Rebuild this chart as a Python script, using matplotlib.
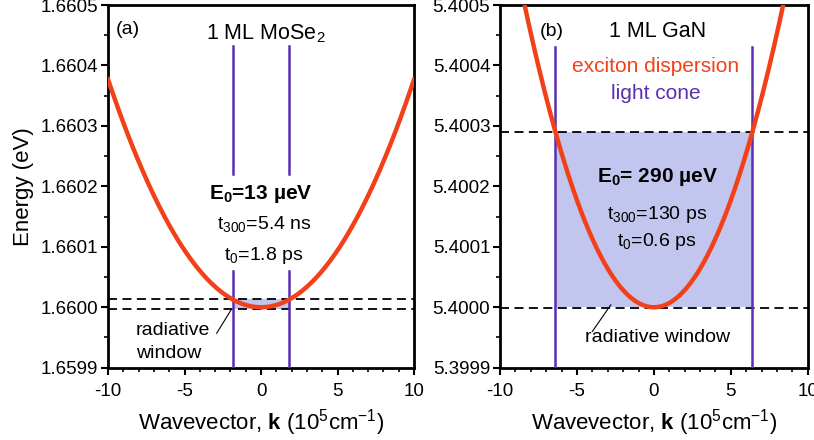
import numpy as np
import matplotlib
matplotlib.use("Agg")
import matplotlib.pyplot as plt

plt.rcParams["font.family"] = ["Liberation Sans", "DejaVu Sans"]
plt.rcParams["mathtext.fontset"] = "custom"
plt.rcParams["mathtext.rm"] = "Liberation Sans"
plt.rcParams["mathtext.bf"] = "Liberation Sans:bold"
plt.rcParams["mathtext.it"] = "Liberation Sans:italic"

# panel (a): 1 ML MoSe2
a_E_min = 1.6600
a_curv = 3.77e-6          # eV per (1e5 cm^-1)^2
a_cone = 1.85
a_dash = [1.660013, 1.659997]
a_ylim = (1.6599, 1.66050)
a_yticks = [1.6599, 1.6600, 1.6601, 1.6602, 1.6603, 1.6604, 1.6605]

# panel (b): 1 ML GaN
b_E_min = 5.4000
b_curv = 7.08e-6
b_cone = 6.4
b_dash = [5.40029, 5.399998]
b_ylim = (5.3999, 5.40050)
b_yticks = [5.3999, 5.4000, 5.4001, 5.4002, 5.4003, 5.4004, 5.4005]

red = "#f2411a"
purple = "#5a2fb0"
shade = "#c2c6ee"

fig = plt.figure(figsize=(8.14, 4.40), dpi=100)
ax1 = fig.add_axes([0.1327, 0.1643, 0.376, 0.8243])
ax2 = fig.add_axes([0.6143, 0.1643, 0.378, 0.8243])

k = np.linspace(-10, 10, 400)

for ax, yt, ylim in [(ax1, a_yticks, a_ylim), (ax2, b_yticks, b_ylim)]:
    ax.set_xlim(-10, 10)
    ax.set_ylim(*ylim)
    ax.set_xticks([-10, -5, 0, 5, 10])
    ax.set_xticks(np.arange(-10, 11, 1), minor=True)
    ax.set_yticks(yt)
    ax.set_yticks(np.arange(ylim[0], ylim[1] + 1e-6, 0.00005), minor=True)
    ax.yaxis.set_major_formatter(matplotlib.ticker.FormatStrFormatter("%.4f"))
    ax.xaxis.set_major_formatter(matplotlib.ticker.FormatStrFormatter("%g"))
    ax.tick_params(direction="out", labelsize=13.5, width=1.5, length=5, pad=2)
    ax.tick_params(axis="x", pad=6)
    ax.tick_params(which="minor", direction="out", width=1.2, length=3)
    for s in ax.spines.values():
        s.set_linewidth(2)
    ax.set_xlabel(r"Wavevector, $\mathbf{k}$ (10$^5$cm$^{-1}$)", fontsize=16, labelpad=5)

ax1.set_ylabel("Energy (eV)", fontsize=16, labelpad=5)

# panel (a)
ax1.fill_between([-a_cone, a_cone], a_dash[1], a_dash[0], color=shade, lw=0, zorder=1)
for y in a_dash:
    ax1.axhline(y, color="k", ls=(0, (5, 3)), lw=1.3, zorder=2)
for x in [-a_cone, a_cone]:
    ax1.plot([x, x], [1.66022, 1.660433], color=purple, lw=1.8, zorder=3)
    ax1.plot([x, x], [1.6599, 1.66006], color=purple, lw=1.8, zorder=3)
ax1.plot(k, a_E_min + a_curv * k ** 2, color=red, lw=3.2, zorder=4)
ax1.text(-9.5, 1.66046, "(a)", fontsize=14, va="center")
ax1.text(0.3, 1.660452, r"1 ML MoSe$_2$", fontsize=15.5, ha="center", va="center")
ax1.text(0.0, 1.660187, r"E$_\mathbf{0}$=13 µeV", fontsize=15, ha="center",
         va="center", fontweight="bold")
ax1.text(0.2, 1.660137, r"t$_{300}$=5.4 ns", fontsize=14, ha="center", va="center")
ax1.text(0.2, 1.660085, r"t$_0$=1.8 ps", fontsize=14, ha="center", va="center")
ax1.text(-8.2, 1.659962, "radiative", fontsize=14, ha="left", va="center")
ax1.text(-8.2, 1.659923, "window", fontsize=14, ha="left", va="center")
ax1.plot([-2.9, -1.95], [1.659957, 1.659996], color="k", lw=0.8)

# panel (b)
ax2.fill_between([-b_cone, b_cone], b_E_min, b_dash[0], color=shade, lw=0, zorder=1)
for y in b_dash:
    ax2.axhline(y, color="k", ls=(0, (5, 3)), lw=1.3, zorder=2)
for x in [-b_cone, b_cone]:
    ax2.plot([x, x], [5.3999, 5.40043], color=purple, lw=1.8, zorder=3)
ax2.plot(k, b_E_min + b_curv * k ** 2, color=red, lw=3.2, zorder=4)
ax2.text(-7.4, 5.400456, "(b)", fontsize=14, va="center")
ax2.text(0.27, 5.400456, "1 ML GaN", fontsize=15.5, ha="center", va="center")
ax2.text(0.1, 5.400399, "exciton dispersion", fontsize=15, ha="center", va="center",
         color=red)
ax2.text(0.1, 5.400353, "light cone", fontsize=15, ha="center", va="center",
         color=purple)
ax2.text(0.2, 5.400216, r"E$_\mathbf{0}$= 290 µeV", fontsize=15, ha="center",
         va="center", fontweight="bold")
ax2.text(0.2, 5.400153, r"t$_{300}$=130 ps", fontsize=14, ha="center", va="center")
ax2.text(0.2, 5.400108, r"t$_0$=0.6 ps", fontsize=14, ha="center", va="center")
ax2.text(0.27, 5.39995, "radiative window", fontsize=14, ha="center", va="center")
ax2.plot([-4.0, -2.8], [5.39996, 5.400004], color="k", lw=0.8)

fig.savefig("out.png", dpi=100)
